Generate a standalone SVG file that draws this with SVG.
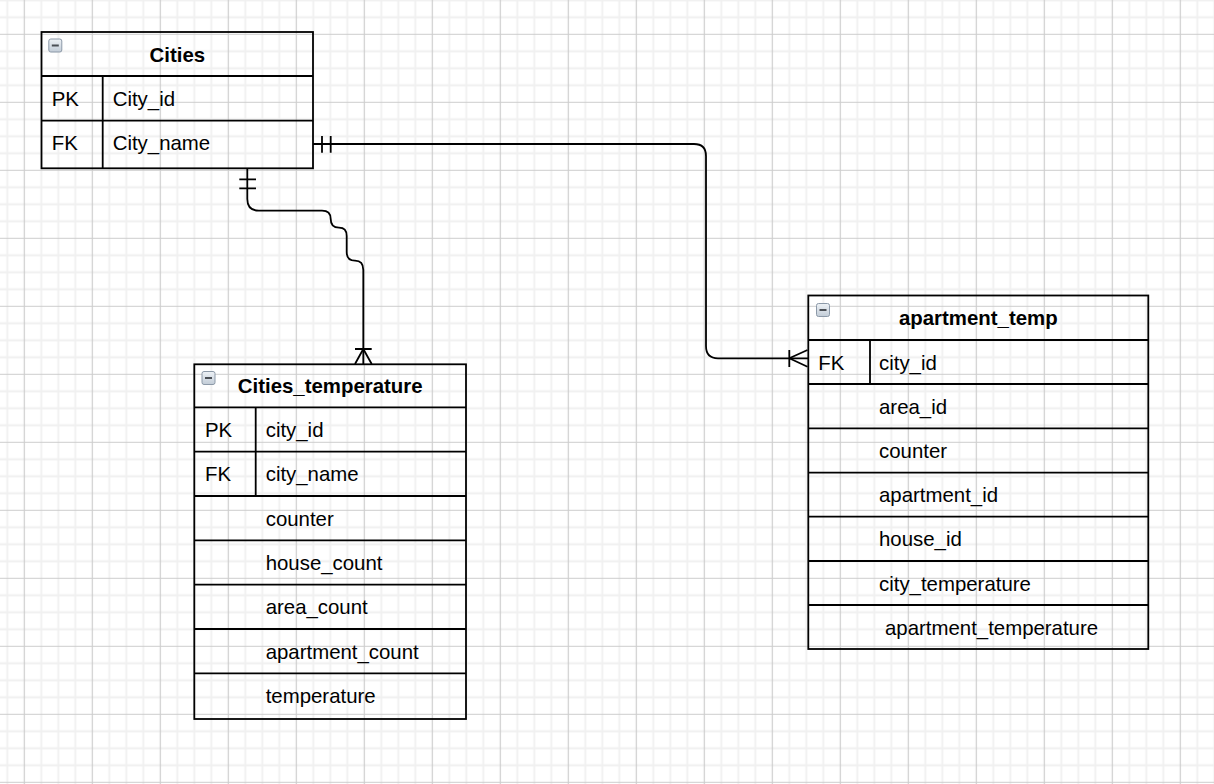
<svg xmlns="http://www.w3.org/2000/svg" width="1214" height="784" viewBox="0 0 1214 784">
<defs>
<pattern id="grid" patternUnits="userSpaceOnUse" x="15.8" y="25.8" width="68" height="68">
<path d="M25.5,0V68M42.5,0V68M59.5,0V68M0,25.5H68M0,42.5H68M0,59.5H68" stroke="#f0f0f0" stroke-width="1.8" fill="none"/>
<path d="M8.5,0V68M0,8.5H68" stroke="#cdcdcd" stroke-width="1.2" fill="none"/>
</pattern>
<linearGradient id="ig" x1="0" y1="0" x2="0" y2="1">
<stop offset="0" stop-color="#eef2f6"/>
<stop offset="1" stop-color="#c2ccd7"/>
</linearGradient>
<symbol id="icon" viewBox="0 0 14 14" overflow="visible">
<rect x="0.5" y="0.5" width="13" height="13" rx="2" fill="url(#ig)" stroke="#8c99a8" stroke-width="1"/>
<path d="M3.5,7H10.5" stroke="#4a4f55" stroke-width="2"/>
</symbol>
</defs>
<style>
.tbl{fill:none;stroke:#000;stroke-width:1.8}
.ln{stroke:#000;stroke-width:1.8;fill:none}
.title{font-family:"Liberation Sans",Arial,sans-serif;font-size:20.4px;font-weight:bold;fill:#000;text-anchor:middle}
.txt{font-family:"Liberation Sans",Arial,sans-serif;font-size:20.4px;fill:#000}
.conn{stroke:#000;stroke-width:1.8;fill:none}
</style>
<rect width="1214" height="784" fill="#fff"/>
<rect width="1214" height="784" fill="url(#grid)"/>

<g id="connectors">
<path class="conn" d="M313,144H694Q706,144 706,156V346Q706,358.3 718,358.3H808"/>
<path class="conn" d="M322,136V152.7M330.7,136V152.7"/>
<path class="conn" d="M789.3,350V367M789.3,358.3L807.5,350M789.3,358.3L807.5,366.7"/>
<path class="conn" d="M247.3,168V199Q247.3,210.7 259,210.7H322Q330.7,210.7 330.7,219Q330.7,227.7 339,227.7Q346.7,227.7 346.7,236V252Q346.7,260.7 355,260.7Q363.3,260.7 363.3,270V364"/>
<path class="conn" d="M239.3,179.3H256M239.3,188.3H256"/>
<path class="conn" d="M355,349H371.7M363.3,349L355,364M363.3,349L371.7,364"/>
</g>

<g id="cities">
<rect class="tbl" x="41.5" y="32" width="271.5" height="136.3"/>
<path class="ln" d="M41.5,76H313M41.5,120.7H313M102.7,76V168.3"/>
<use href="#icon" x="48.3" y="38.5" width="14" height="14"/>
<text class="title" x="177.3" y="61.7">Cities</text>
<text class="txt" x="51.7" y="106">PK</text>
<text class="txt" x="112.7" y="106">City_id</text>
<text class="txt" x="51.7" y="150">FK</text>
<text class="txt" x="112.7" y="150">City_name</text>
</g>

<g id="cities_temperature">
<rect class="tbl" x="194.3" y="364.3" width="271.7" height="354.7"/>
<path class="ln" d="M194.3,407.3H466M194.3,451.7H466M194.3,496H466M194.3,540.3H466M194.3,584.7H466M194.3,629H466M194.3,673.3H466M255.7,407.3V496"/>
<use href="#icon" x="201.5" y="371" width="14" height="14"/>
<text class="title" x="330.2" y="393">Cities_temperature</text>
<text class="txt" x="205" y="437">PK</text>
<text class="txt" x="265.7" y="437">city_id</text>
<text class="txt" x="205" y="481.3">FK</text>
<text class="txt" x="265.7" y="481.3">city_name</text>
<text class="txt" x="265.7" y="525.6">counter</text>
<text class="txt" x="265.7" y="570">house_count</text>
<text class="txt" x="265.7" y="614.3">area_count</text>
<text class="txt" x="265.7" y="658.6">apartment_count</text>
<text class="txt" x="265.7" y="703">temperature</text>
</g>

<g id="apartment_temp">
<rect class="tbl" x="808.3" y="295.5" width="340" height="353.5"/>
<path class="ln" d="M808.3,340H1148.3M808.3,384H1148.3M808.3,428.3H1148.3M808.3,472.7H1148.3M808.3,516.7H1148.3M808.3,561H1148.3M808.3,605H1148.3M870,340V384"/>
<use href="#icon" x="816" y="303" width="14" height="14"/>
<text class="title" x="978.3" y="325">apartment_temp</text>
<text class="txt" x="818.3" y="369.6">FK</text>
<text class="txt" x="879" y="369.6">city_id</text>
<text class="txt" x="879" y="413.6">area_id</text>
<text class="txt" x="879" y="458">counter</text>
<text class="txt" x="879" y="502.3">apartment_id</text>
<text class="txt" x="879" y="546.3">house_id</text>
<text class="txt" x="879" y="590.6">city_temperature</text>
<text class="txt" x="885" y="634.6">apartment_temperature</text>
</g>
</svg>
